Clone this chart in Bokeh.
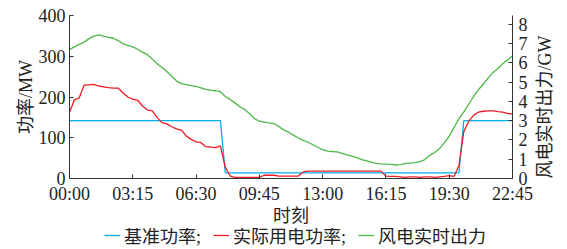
import math
from bokeh.plotting import figure
from bokeh.layouts import column
from bokeh.models import (Range1d, LinearAxis, FixedTicker, Legend, LegendItem)
from bokeh.embed import file_html
from bokeh.resources import INLINE

# 15-minute samples 00:00 .. 22:45 (index 0..91)
idx = list(range(92))
tick_idx = [0, 13, 26, 39, 52, 65, 78, 91]
tick_labels = ["00:00", "03:15", "06:30", "09:45", "13:00", "16:15", "19:30", "22:45"]

base_power = ([142] * 32) + ([14] * 49) + ([142] * 11)

actual_power = [
    162, 193, 198, 229, 230, 231, 227, 225, 223, 222,
    222, 210, 200, 195, 192, 178, 168, 166, 150, 137,
    134, 127, 122, 119, 104, 96, 90, 88, 78, 77,
    76, 80, 28, 6, 3, 3, 3, 3, 3, 3,
    8, 8, 8, 6, 6, 6, 6, 6, 16, 18,
    18, 18, 18, 18, 18, 18, 18, 18, 18, 18,
    18, 18, 18, 18, 18, 6, 5, 5, 4, 3,
    4, 4, 3, 4, 4, 3, 4, 5, 7, 5,
    32, 115, 140, 155, 163, 165, 166, 166, 164, 163,
    160, 158,
]

wind_gw = [
    6.68, 6.82, 6.95, 7.07, 7.25, 7.38, 7.45, 7.38, 7.32, 7.27,
    7.15, 6.98, 6.90, 6.82, 6.70, 6.55, 6.42, 6.20, 5.95, 5.75,
    5.55, 5.30, 5.05, 4.92, 4.87, 4.82, 4.77, 4.70, 4.62, 4.58,
    4.55, 4.50, 4.25, 4.10, 3.92, 3.72, 3.58, 3.35, 3.10, 2.97,
    2.92, 2.88, 2.85, 2.70, 2.52, 2.40, 2.25, 2.10, 1.98, 1.88,
    1.75, 1.62, 1.50, 1.42, 1.40, 1.38, 1.30, 1.22, 1.16, 1.08,
    0.98, 0.92, 0.85, 0.78, 0.76, 0.75, 0.73, 0.70, 0.72, 0.78,
    0.80, 0.82, 0.88, 0.98, 1.20, 1.35, 1.55, 1.85, 2.20, 2.65,
    3.10, 3.45, 3.85, 4.25, 4.60, 4.90, 5.20, 5.50, 5.70, 5.95,
    6.15, 6.37,
]

labels = ["基准功率;", "实际用电功率;", "风电实时出力"]
colors = ["#00AEEF", "#EE1C25", "#4CB848"]
series = [base_power, actual_power, wind_gw]

FONT = "'Liberation Serif', 'Noto Sans CJK SC'"
TXT = "#222222"

p = figure(width=567, height=228, x_range=Range1d(0, 91), y_range=Range1d(0, 400),
           output_backend="svg", toolbar_location=None,
           min_border_left=69, min_border_right=45, min_border_top=15, min_border_bottom=49)
p.extra_y_ranges = {"gw": Range1d(0, 8.45)}
p.outline_line_color = None
p.grid.visible = False
p.background_fill_color = "white"
p.border_fill_color = "white"

p.line(idx, base_power, line_color=colors[0], line_width=1.3)
p.line(idx, actual_power, line_color=colors[1], line_width=1.3)
p.line(idx, wind_gw, line_color=colors[2], line_width=1.3, y_range_name="gw")

ax_r = LinearAxis(y_range_name="gw")
p.add_layout(ax_r, "right")

xa = p.xaxis[0]
xa.ticker = FixedTicker(ticks=tick_idx)
xa.major_label_overrides = {t: l for t, l in zip(tick_idx, tick_labels)}
xa.axis_label = "时刻"

ya = p.yaxis[0]
ya.ticker = FixedTicker(ticks=[0, 100, 200, 300, 400])
ya.axis_label = "功率/MW"
ax_r.ticker = FixedTicker(ticks=[0, 1, 2, 3, 4, 5, 6, 7, 8])
ax_r.axis_label = "风电实时出力/GW"

for ax in [xa, ya, ax_r]:
    ax.major_tick_in = 4
    ax.major_tick_out = 0
    ax.minor_tick_in = 0
    ax.minor_tick_out = 0
    ax.axis_line_color = "#333333"
    ax.major_tick_line_color = "#333333"
    ax.axis_line_width = 1
    ax.major_label_text_font = FONT
    ax.major_label_text_font_size = "18px"
    ax.major_label_text_color = TXT
    ax.axis_label_text_font = FONT
    ax.axis_label_text_font_size = "18px"
    ax.axis_label_text_font_style = "normal"
    ax.axis_label_text_color = TXT

# right-axis title reads bottom-to-top in the reference
try:
    ax_r.axis_label_orientation = math.pi / 2
    ax_r.axis_label_align = "start"
except Exception:
    pass
ax_r.axis_label_text_line_height = 0.6

xa.major_label_standoff = 5
xa.axis_label_standoff = -1
ya.major_label_standoff = 4
ya.axis_label_standoff = 0
ax_r.major_label_standoff = 6
ax_r.axis_label_standoff = 14

# legend strip below the chart (its frame is aligned with the chart's frame)
lg = figure(width=567, height=21, x_range=Range1d(0, 1), y_range=Range1d(-2, -1),
            output_backend="svg", toolbar_location=None,
            x_axis_location=None, y_axis_location=None,
            min_border_left=0, min_border_right=0, min_border_top=0, min_border_bottom=0)
lg.outline_line_color = None
lg.grid.visible = False
lg_r = [lg.line(idx, s, line_color=c, line_width=1.3) for s, c in zip(series, colors)]
legend = Legend(items=[LegendItem(label=l, renderers=[r]) for l, r in zip(labels, lg_r)],
                orientation="horizontal", location=(35, 1),
                glyph_width=16, glyph_height=20, label_standoff=4, spacing=12,
                padding=0, margin=0, border_line_color=None, background_fill_alpha=0,
                label_text_font=FONT, label_text_font_size="18px", label_text_color=TXT)
lg.add_layout(legend, "center")

open("out.html", "w").write(file_html(column(p, lg, spacing=0), INLINE))
